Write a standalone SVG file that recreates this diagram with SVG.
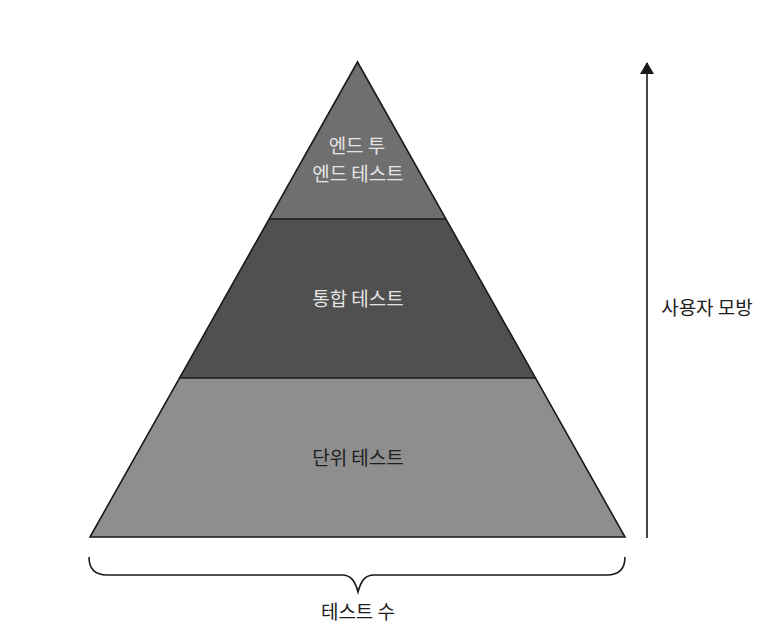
<svg xmlns="http://www.w3.org/2000/svg" width="759" height="630" viewBox="0 0 759 630">
  <defs>
    <style>
      .lbl { font-family: "Noto Sans CJK KR", "Noto Sans", sans-serif; font-size: 19px; text-anchor: middle; }
      .light { fill: #e4e4e4; }
      .dark { fill: #1e1e1e; }
      .edge { fill: none; stroke: #1a1a1a; stroke-width: 1.6; stroke-linejoin: miter; }
      .conn { fill: none; stroke: #1a1a1a; stroke-width: 1.6; }
    </style>
    <marker id="arrow" viewBox="0 0 12 14" refX="11" refY="7" markerWidth="12" markerHeight="14" markerUnits="userSpaceOnUse" orient="auto">
      <path d="M0,0 L12,7 L0,14 Z" fill="#1a1a1a"/>
    </marker>
  </defs>
  <rect x="0" y="0" width="759" height="630" fill="#ffffff"/>

  <g id="e2e">
    <polygon points="357.5,62 269,219 446,219" fill="#6f6f6f"/>
    <text class="lbl light" x="357" y="153">엔드 투</text>
    <text class="lbl light" x="358" y="181">엔드 테스트</text>
  </g>
  <g id="integration">
    <polygon points="269,219 446,219 535.5,378 179.5,378" fill="#505050"/>
    <text class="lbl light" x="358" y="306">통합 테스트</text>
  </g>
  <g id="unit">
    <polygon points="179.5,378 535.5,378 625,537 90,537" fill="#8e8e8e"/>
    <text class="lbl dark" x="358" y="465">단위 테스트</text>
  </g>
  <g id="outline">
    <polygon class="edge" points="357.5,62 625,537 90,537"/>
    <line class="edge" x1="269" y1="219" x2="446" y2="219"/>
    <line class="edge" x1="179.5" y1="378" x2="535.5" y2="378"/>
  </g>

  <g id="connectors">
    <line class="conn" x1="647" y1="538" x2="647" y2="63" marker-end="url(#arrow)"/>
    <path class="conn" d="M89,557 C89,569 95,575 107,575 L342,575 C351,575 355,581 358,592 C361,581 365,575 374,575 L607,575 C619,575 625,569 625,557"/>
  </g>

  <g id="user-sim">
    <text class="lbl dark" x="707" y="315">사용자 모방</text>
  </g>
  <g id="test-count">
    <text class="lbl dark" x="358" y="619">테스트 수</text>
  </g>
</svg>
